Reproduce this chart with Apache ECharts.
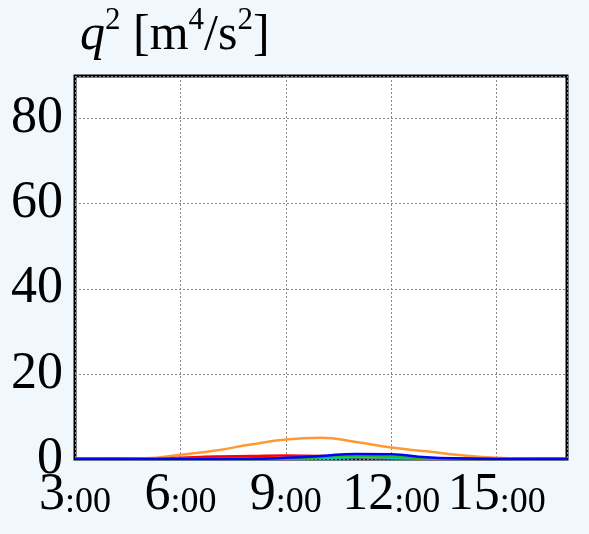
<!DOCTYPE html>
<html>
<head>
    <meta charset="utf-8" />
    <style>
        html, body {
            margin: 0;
            padding: 0;
            background-color: #f0f7fd;
        }
        #chart {
            width: 589px;
            height: 534px;
        }
    </style>
    <script src="https://cdn.jsdelivr.net/npm/echarts@6/dist/echarts.min.js"></script>
</head>
<body>
    <div id="chart"></div>
    <script type="text/javascript">
        // hours of the day (x)
        var hours = [3, 4, 5, 6, 7, 8, 9, 10, 11, 12, 13, 14, 15, 16, 17];
        // q^2 values
        var orangeVals = [0, 0, 0.15, 1.0, 2.0, 3.4, 4.6, 5.0, 4.0, 2.7, 1.8, 0.9, 0.3, 0.1, 0];
        var redVals    = [0, 0, 0, 0.3, 0.6, 0.7, 0.8, 0.7, 0.4, 0.1, 0, 0, 0, 0, 0];
        var greenVals  = [0, 0, 0, 0, 0, 0, 0.1, 0.4, 0.8, 0.6, 0.1, 0, 0, 0, 0];
        var cyanVals   = [0, 0, 0, 0, 0, 0, 0.05, 0.2, 0.4, 0.3, 0.05, 0, 0, 0, 0];
        var blueVals   = [0, 0, 0, 0, 0, 0.05, 0.3, 0.7, 1.2, 1.1, 0.4, 0.1, 0, 0, 0];
        var xTicks = [3, 6, 9, 12, 15];
        var yTicks = [0, 20, 40, 60, 80];

        function pairs(vals) {
            var out = [];
            for (var i = 0; i < hours.length; i++) {
                out.push([hours[i], vals[i]]);
            }
            return out;
        }

        function line(vals, color) {
            return {
                type: 'line',
                data: pairs(vals),
                smooth: true,
                symbol: 'none',
                lineStyle: { color: color, width: 2.5 },
                z: 3
            };
        }

        var serif = '"Liberation Serif", "DejaVu Serif", serif';

        var myChart = echarts.init(document.getElementById('chart'));
        var option = {
            backgroundColor: '#f0f7fd',
            animation: false,
            // axis title drawn as free text at top left
            graphic: [{
                type: 'text',
                left: 80,
                top: 5,
                style: {
                    text: '{i|q}{sup|2}{n| [m}{sup|4}{n|/s}{sup|2}{n|]}',
                    fontFamily: serif,
                    fontSize: 50,
                    fill: '#000',
                    rich: {
                        i: { fontFamily: serif, fontStyle: 'italic', fontSize: 50, fill: '#000', verticalAlign: 'bottom', lineHeight: 56 },
                        n: { fontFamily: serif, fontSize: 50, fill: '#000', verticalAlign: 'bottom', lineHeight: 56 },
                        sup: { fontFamily: serif, fontSize: 31, fill: '#000', verticalAlign: 'top', lineHeight: 36 }
                    }
                }
            }],
            grid: {
                left: 75,
                right: 22,
                top: 76,
                bottom: 75,
                show: true,
                backgroundColor: '#fff',
                borderColor: '#000',
                borderWidth: 3
            },
            xAxis: {
                type: 'value',
                min: 3,
                max: 17,
                interval: 3,
                axisLine: { show: false },
                axisTick: { show: false },
                splitLine: {
                    show: true,
                    lineStyle: { color: '#888', type: [2, 2], width: 1 }
                },
                axisLabel: {
                    margin: 12,
                    showMaxLabel: false,
                    formatter: function (v) {
                        if (xTicks.indexOf(v) < 0) return '';
                        return '{b|' + v + '}{s|:00}';
                    },
                    rich: {
                        b: { fontFamily: serif, fontSize: 52, color: '#000', verticalAlign: 'bottom', lineHeight: 50 },
                        s: { fontFamily: serif, fontSize: 36, color: '#000', verticalAlign: 'bottom', lineHeight: 40 }
                    }
                }
            },
            yAxis: {
                type: 'value',
                min: 0,
                max: 90,
                interval: 20,
                axisLine: { show: false },
                axisTick: { show: false },
                splitLine: {
                    show: true,
                    lineStyle: { color: '#888', type: [2, 2], width: 1 }
                },
                axisLabel: {
                    margin: 12,
                    showMaxLabel: false,
                    fontFamily: serif,
                    fontSize: 52,
                    color: '#000',
                    formatter: function (v) {
                        return yTicks.indexOf(v) < 0 ? '' : String(v);
                    }
                }
            },
            series: [
                line(orangeVals, '#ff9933'),
                line(redVals, '#ff0000'),
                line(cyanVals, '#00cccc'),
                line(greenVals, '#22bb22'),
                line(blueVals, '#0000ff')
            ]
        };
        myChart.setOption(option);
    </script>
</body>
</html>
